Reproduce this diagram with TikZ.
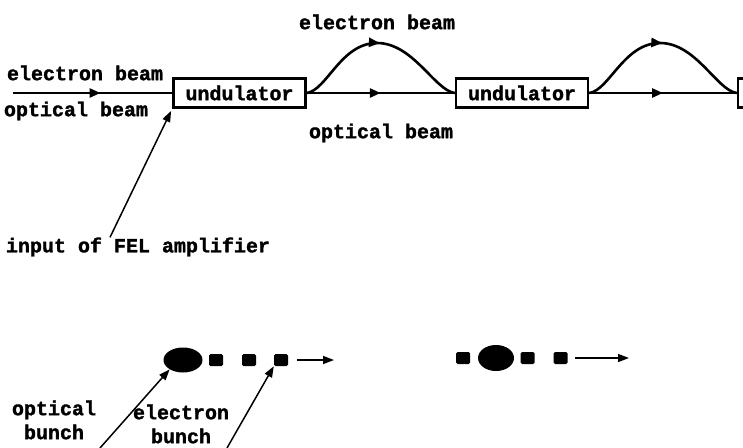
\documentclass[tikz,border=0pt]{standalone}
\usepackage{fontspec}
\setmonofont{Liberation Mono}[BoldFeatures={FakeBold=1.6}]
\usetikzlibrary{arrows.meta,decorations.markings,shapes.geometric}

\begin{document}
\begin{tikzpicture}[x=1pt, y=-1pt,
    txt/.style={font=\ttfamily\bfseries\fontsize{20}{24}\selectfont, inner sep=0pt, align=center},
    undul/.style={rectangle, draw=black, line width=2.8pt, minimum width=132pt, minimum height=29pt, inner sep=0pt, txt},
    beam/.style={line width=2.6pt},
    midarrow/.style={postaction={decorate}, decoration={markings, mark=at position #1 with {\arrow{Triangle[length=11pt,width=9pt]}}}},
    pointer/.style={-{Triangle[length=11pt,width=8pt]}, line width=1.5pt},
    ebunch/.style={rectangle, fill=black, minimum width=14pt, minimum height=12pt, inner sep=0pt, rounded corners=1.5pt},
    obunch/.style={ellipse, fill=black, inner sep=0pt}
]
\path[use as bounding box, clip] (0,0) rectangle (743,447);

% Undulators
\node[undul] (und1) at (239.5,93) {undulator};
\node[undul] (und2) at (522,93) {undulator};
\node[undul] (und3) at (804,93) {};

% Beam labels
\node[txt] (ebeamin) at (85,73) {electron beam};
\node[txt] (obeamin) at (76,111) {optical beam};
\node[txt] (ebeamup) at (377,22) {electron beam};
\node[txt] (obeamdn) at (381,133) {optical beam};
\node[txt] (inlbl) at (138,247) {input of FEL amplifier};

% Beams
\coordinate (start) at (13,93);
\coordinate (peak1) at (377,43);
\coordinate (peak2) at (660,43);
\draw[beam, midarrow=0.55] (start) -- (und1.west);
\draw[beam, midarrow=0.5] (und1.east) -- (und2.west);
\draw[beam, midarrow=0.5] (und2.east) -- (und3.west);
\draw[beam, midarrow=0.5] (und1.east) .. controls +(20,-3) and +(-36,0) .. (peak1) .. controls +(36,0) and +(-20,-3) .. (und2.west);
\draw[beam, midarrow=0.5] (und2.east) .. controls +(20,-3) and +(-36,0) .. (peak2) .. controls +(36,0) and +(-20,-3) .. (und3.west);

% Input pointer
\draw[pointer] ([xshift=-28pt]inlbl.north) -- ([shift={(-1pt,-2pt)}]und1.south west);

% Bunches, first stage
\node[obunch, minimum width=39pt, minimum height=25pt] (opt1) at (183,360) {};
\node[ebunch] (el1a) at (216,360) {};
\node[ebunch] (el1b) at (249,360) {};
\node[ebunch] (el1c) at (281,360) {};
\coordinate (tip1) at (334,360);
\draw[pointer] ([xshift=9pt]el1c.east) -- (tip1);

% Bunches, later stage
\node[ebunch] (el2a) at (463,358) {};
\node[obunch, minimum width=36pt, minimum height=26pt] (opt2) at (496,358) {};
\node[ebunch] (el2b) at (527.5,358) {};
\node[ebunch] (el2c) at (560.5,358) {};
\coordinate (tip2) at (629,358);
\draw[pointer] ([xshift=7pt]el2c.east) -- (tip2);

% Bunch labels
\node[txt] (optlbl) at (54,420) {optical\\bunch};
\node[txt] (ellbl) at (181,424) {electron\\bunch};
\coordinate (optail) at (100,448);
\coordinate (eltail) at (227,448);
\draw[pointer] (optail) -- (opt1.215);
\draw[pointer] (eltail) -- (el1c.south west);

\end{tikzpicture}
\end{document}
